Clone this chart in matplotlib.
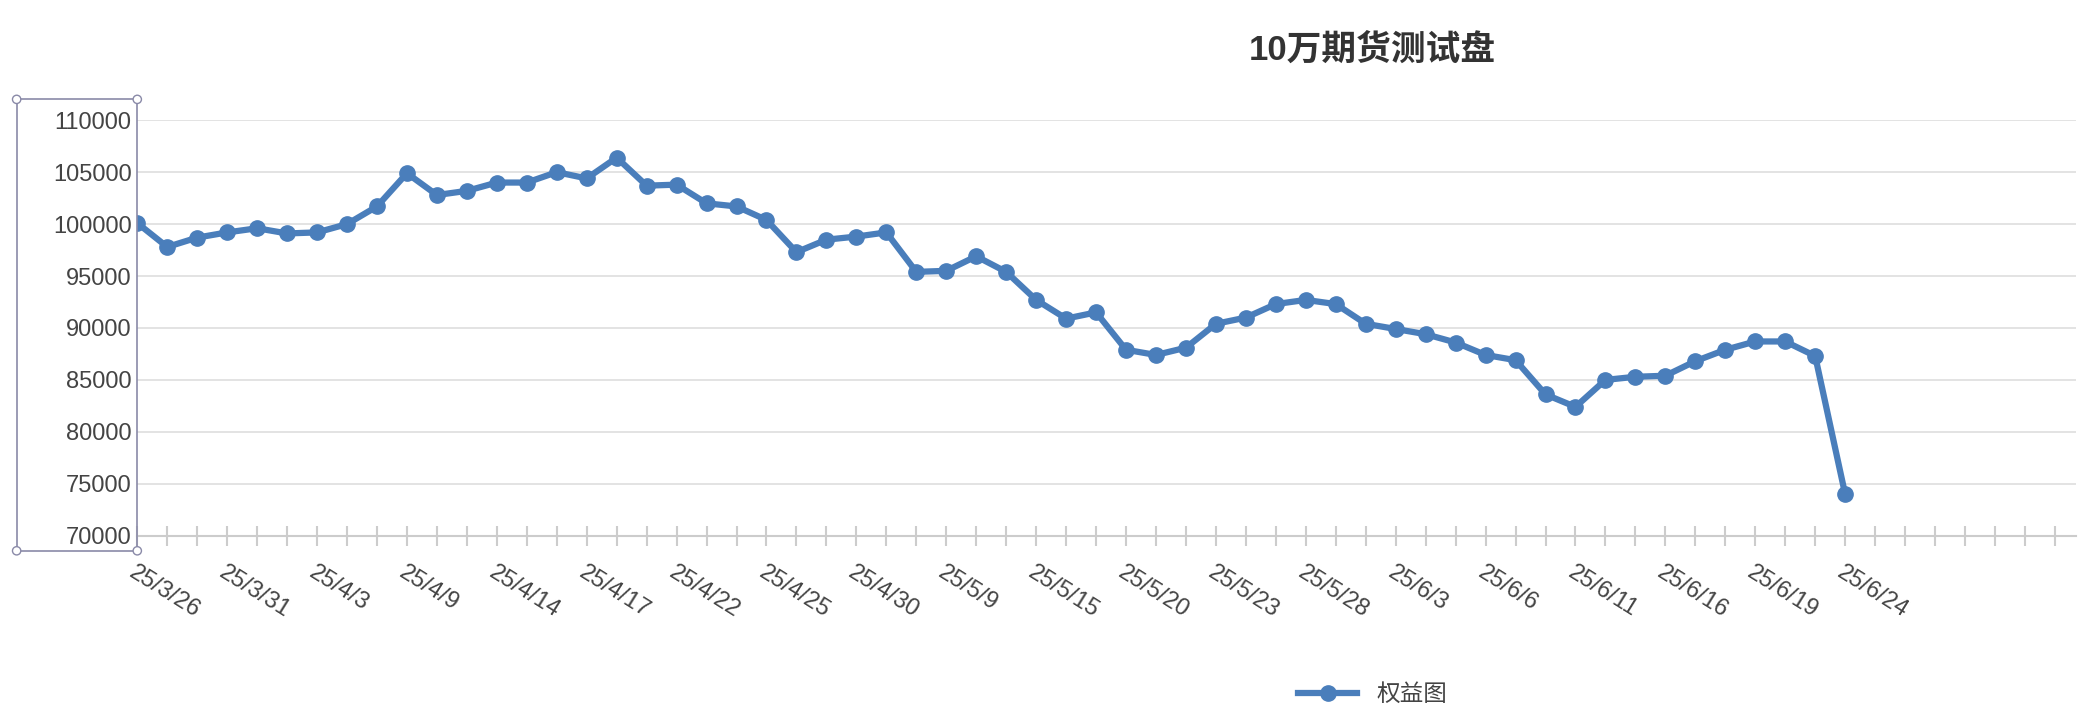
import matplotlib.pyplot as plt
import matplotlib.patches as mpatches
from matplotlib.transforms import ScaledTranslation

plt.rcParams['font.family'] = ['Liberation Sans', 'Noto Sans CJK SC', 'DejaVu Sans']

# labelled dates (every 3rd trading day)
label_dates = ["25/3/26", "25/3/31", "25/4/3", "25/4/9", "25/4/14", "25/4/17", "25/4/22",
               "25/4/25", "25/4/30", "25/5/9", "25/5/15", "25/5/20", "25/5/23", "25/5/28",
               "25/6/3", "25/6/6", "25/6/11", "25/6/16", "25/6/19", "25/6/24"]
equity = [100100, 97800, 98700, 99200, 99600, 99100, 99200, 100000, 101700, 104900,
          102800, 103200, 104000, 104000, 105000, 104400, 106400, 103700, 103800, 102000,
          101700, 100400, 97300, 98500, 98800, 99200, 95400, 95500, 96900, 95400,
          92700, 90900, 91500, 87900, 87400, 88100, 90400, 91000, 92300, 92700,
          92300, 90400, 89900, 89400, 88600, 87400, 86900, 83600, 82400, 85000,
          85300, 85400, 86800, 87900, 88700, 88700, 87300, 74000]
n_slots = 65
y_ticks = [70000, 75000, 80000, 85000, 90000, 95000, 100000, 105000, 110000]

color = '#4a7ebb'
fig = plt.figure(figsize=(20.8, 7.2), dpi=100)
ax = fig.add_axes([0.066, 0.256, 0.932, 0.577])

x = list(range(len(equity)))
ax.plot(x, equity, color=color, lw=4.5, marker='o', ms=11, label='权益图', zorder=3)

ax.set_xlim(0, n_slots - 1 + 0.7)
ax.set_ylim(70000, 110000)
ax.set_yticks(y_ticks)
ax.set_yticklabels([str(v) for v in y_ticks], fontsize=17, color='#444444')
ax.tick_params(axis='y', length=0, pad=4)
ax.grid(axis='y', color='#e0e0e0', lw=1.3)
ax.set_axisbelow(True)

ax.set_xticks(range(n_slots))
labels = [''] * n_slots
for i, d in enumerate(label_dates):
    labels[i * 3] = d
ax.set_xticklabels(labels, fontsize=17, color='#444444', rotation=-32, ha='left',
                   rotation_mode='anchor')
shift = ScaledTranslation(-18 / 100, 0, fig.dpi_scale_trans)
for lab in ax.get_xticklabels():
    lab.set_transform(lab.get_transform() + shift)
ax.tick_params(axis='x', length=14, direction='inout', color='#cccccc', width=1.5, pad=12)
for s in ['top', 'right', 'left']:
    ax.spines[s].set_visible(False)
ax.spines['bottom'].set_color('#cccccc')
ax.spines['bottom'].set_linewidth(1.5)

# selection box around the y axis
rect = mpatches.Rectangle((0.008, 0.235), 0.058, 0.627, transform=fig.transFigure,
                          fill=False, ec='#8a8aa8', lw=1.2)
fig.patches.append(rect)
for cx, cy in [(0.008, 0.235), (0.066, 0.235), (0.008, 0.862), (0.066, 0.862)]:
    fig.patches.append(mpatches.Ellipse((cx, cy), 0.004, 0.0115, transform=fig.transFigure,
                                        fc='white', ec='#8a8aa8', lw=1))

fig.text(0.66, 0.93, '10万期货测试盘', fontsize=25, fontweight='bold', color='#333333',
         ha='center', va='center')
fig.legend(loc='center', bbox_to_anchor=(0.66, 0.035), frameon=False, fontsize=17,
           handlelength=2.5, labelcolor='#444444')

fig.savefig('out.png')
